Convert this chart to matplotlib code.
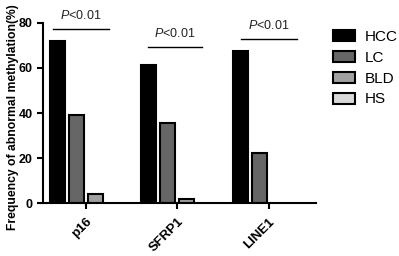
import matplotlib
matplotlib.use("Agg")
import matplotlib.pyplot as plt
from matplotlib.patches import Patch
import numpy as np

plt.rcParams['font.family'] = ['Liberation Sans', 'DejaVu Sans']
plt.rcParams['mathtext.fontset'] = 'custom'
plt.rcParams['mathtext.rm'] = 'Liberation Sans'
plt.rcParams['mathtext.it'] = 'Liberation Sans:italic'

genes = ["p16", "SFRP1", "LINE1"]
groups = ["HCC", "LC", "BLD", "HS"]
hcc = [72, 61.5, 67.5]
lc = [39.2, 35.4, 22.1]
bld = [4, 1.8, 0]
hs = [0, 0, 0]
series = [hcc, lc, bld, hs]
colors = ["#000000", "#666666", "#a0a0a0", "#d8d8d8"]
pvals = ["$\\it{P}$<0.01", "$\\it{P}$<0.01", "$\\it{P}$<0.01"]
p_y = [77.3, 69.3, 72.6]
p_span = [(-0.36, 0.25), (-0.32, 0.27), (-0.30, 0.31)]

fig = plt.figure(figsize=(3.99, 2.56), dpi=100)
ax = fig.add_axes([0.108, 0.206, 0.684, 0.705])

x = np.arange(len(genes))
w = 0.164
step = 0.207
for i, (vals, c) in enumerate(zip(series, colors)):
    off = (i - 1.5) * step
    for xi, v in zip(x, vals):
        if v > 0:
            ax.bar(xi + off, v, width=w, color=c, edgecolor="black", linewidth=1.5)

for xi, (a, b), y, t in zip(x, p_span, p_y, pvals):
    ax.plot([xi + a, xi + b], [y, y], color="black", lw=1.0, clip_on=False)
    ax.text(xi + (a + b) / 2, y + 3.2, t, ha="center", va="bottom",
            fontsize=9, color="#222222", clip_on=False)

ax.set_xlim(-0.47, 2.52)
ax.set_ylim(0, 80)
ax.set_yticks([0, 20, 40, 60, 80])
ax.set_xticks(x)
ax.set_xticklabels(genes, rotation=45, ha="right", rotation_mode="anchor",
                   fontsize=9.5, fontweight="bold")
for lbl in ax.get_yticklabels():
    lbl.set_fontweight("bold")
    lbl.set_fontsize(9)
ax.tick_params(axis="both", width=1.5, length=4, direction="out")
ax.tick_params(axis="x", pad=5)
for s in ["top", "right"]:
    ax.spines[s].set_visible(False)
for s in ["left", "bottom"]:
    ax.spines[s].set_linewidth(1.5)
ax.set_ylabel("Frequency of abnormal methylation(%)", fontsize=8.7,
              fontweight="bold")
ax.yaxis.set_label_coords(-0.088, 0.478)

handles = [Patch(facecolor=c, edgecolor="black", linewidth=1.5, label=g)
           for c, g in zip(colors, groups)]
ax.legend(handles=handles, loc="upper left", bbox_to_anchor=(1.022, 1.02),
          frameon=False, fontsize=11, handlelength=1.45, handleheight=0.72,
          labelspacing=0.45, handletextpad=0.65, borderpad=0.2)

fig.savefig("out.png", dpi=100)
